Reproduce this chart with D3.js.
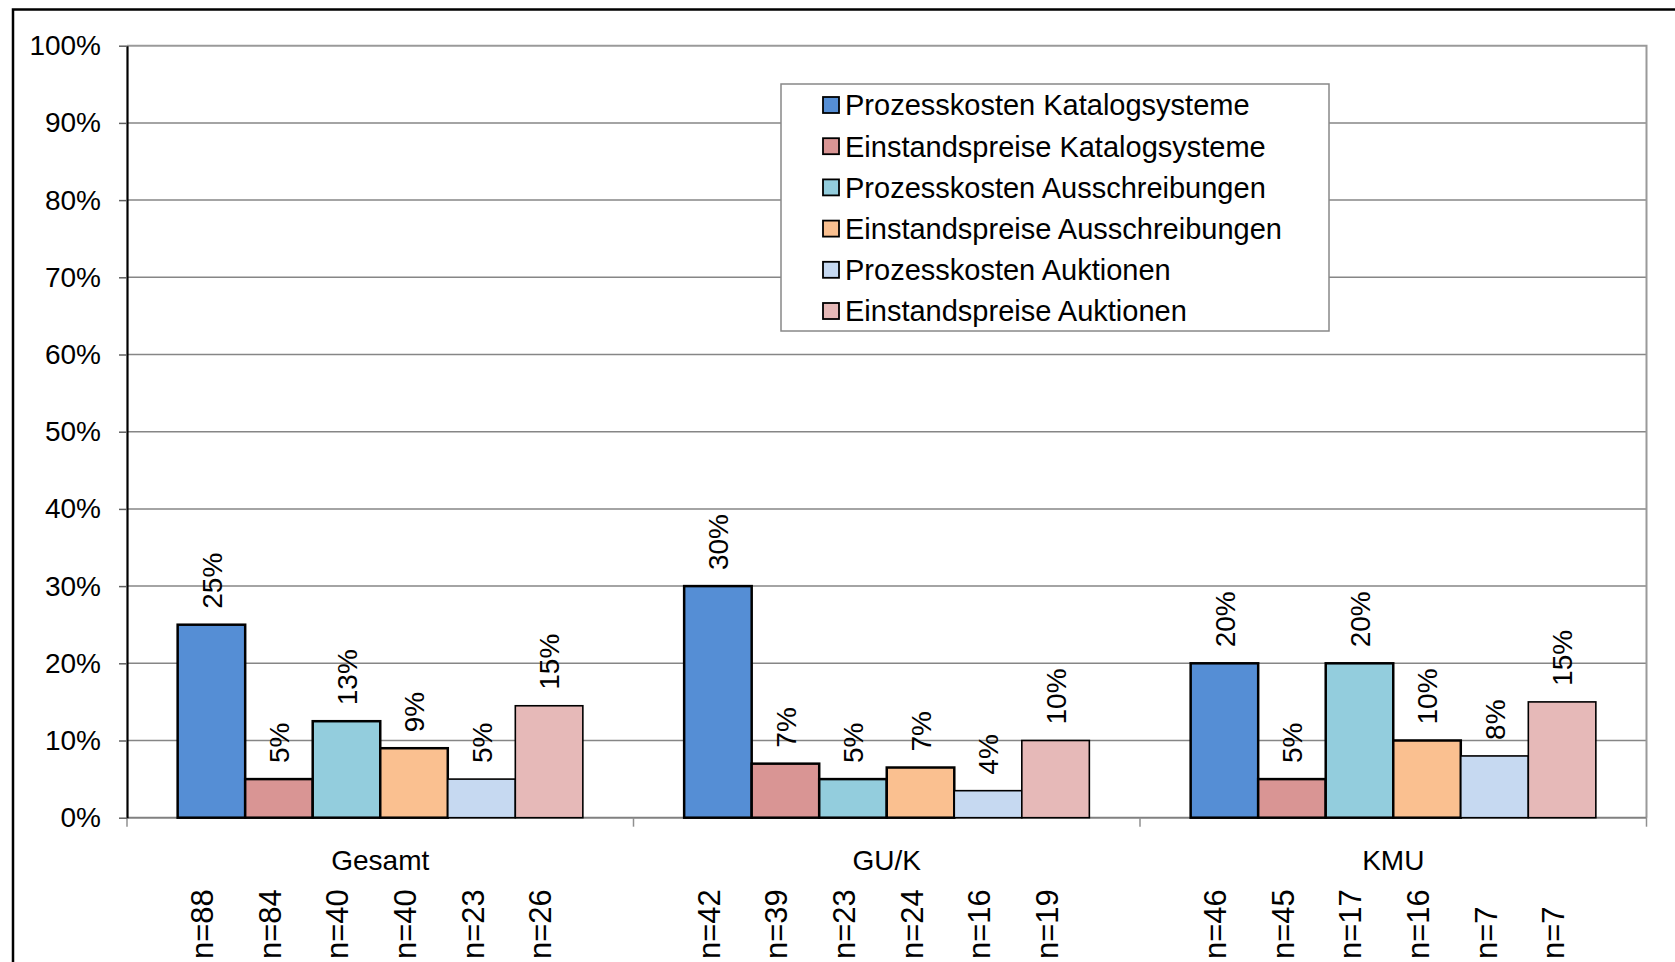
<!DOCTYPE html>
<html lang="de">
<head>
<meta charset="UTF-8">
<title>Einsparungen Prozesskosten / Einstandspreise</title>
<script src="https://d3js.org/d3.v7.min.js"></script>
<style>
  body { margin:0; background:#ffffff; }
  svg { display:block; }
  text { font-family: "Liberation Sans", Arial, sans-serif; fill:#000; }
</style>
</head>
<body>
<svg id="chart" width="1675" height="962"></svg>
<script>

// data
var groups = ["Gesamt", "GU/K", "KMU"];
var seriesNames = [
  "Prozesskosten Katalogsysteme",
  "Einstandspreise Katalogsysteme",
  "Prozesskosten Ausschreibungen",
  "Einstandspreise Ausschreibungen",
  "Prozesskosten Auktionen",
  "Einstandspreise Auktionen"
];
var gesamtValues = [25, 5, 12.5, 9, 5, 14.5];
var gukValues    = [30, 7, 5, 6.5, 3.5, 10];
var kmuValues    = [20, 5, 20, 10, 8, 15];
var gesamtN = [88, 84, 40, 40, 23, 26];
var gukN    = [42, 39, 23, 24, 16, 19];
var kmuN    = [46, 45, 17, 16, 7, 7];
var yTicks = [0, 10, 20, 30, 40, 50, 60, 70, 80, 90, 100];

var colors = ["#558ed5", "#d99594", "#93cddd", "#fac090", "#c6d9f1", "#e6b9b8"];
var strokeW = [2.5, 2.5, 2.5, 2.5, 1.6, 1.6];

var valuesByGroup = [gesamtValues, gukValues, kmuValues];
var nByGroup = [gesamtN, gukN, kmuN];

var rows = [];
groups.forEach(function(g, gi) {
  seriesNames.forEach(function(s, si) {
    rows.push({ group: g, series: s, si: si, value: valuesByGroup[gi][si], n: nByGroup[gi][si] });
  });
});

var svg = d3.select("#chart");
var plotLeft = 127, plotRight = 1646.5, plotTop = 45.7, plotBottom = 817.7;

var x0 = d3.scaleBand().domain(groups).range([plotLeft, plotRight]).paddingInner(0).paddingOuter(0);
var x1 = d3.scaleBand().domain(seriesNames).range([0, x0.bandwidth()]).paddingInner(0).paddingOuter(0.75);
var y = d3.scaleLinear().domain([0, 100]).range([plotBottom, plotTop]);

// outer frame
svg.append("rect")
  .attr("x", 13).attr("y", 9.5)
  .attr("width", 1700).attr("height", 1000)
  .attr("fill", "none").attr("stroke", "#000").attr("stroke-width", 2.5);

// gridlines
svg.append("g")
  .selectAll("line")
  .data(yTicks.filter(function(d) { return d > 0 && d < 100; }))
  .enter().append("line")
    .attr("x1", plotLeft).attr("x2", plotRight)
    .attr("y1", function(d) { return y(d); })
    .attr("y2", function(d) { return y(d); })
    .attr("stroke", "#868686").attr("stroke-width", 1.5);

// plot area border (top + right)
svg.append("path")
  .attr("d", "M" + plotLeft + "," + y(100) + "H" + plotRight + "V" + y(0))
  .attr("fill", "none").attr("stroke", "#9a9a9a").attr("stroke-width", 2);

// x axis line and category ticks
svg.append("line")
  .attr("x1", plotLeft).attr("x2", plotRight)
  .attr("y1", y(0)).attr("y2", y(0))
  .attr("stroke", "#808080").attr("stroke-width", 2);

var bounds = groups.map(function(g) { return x0(g); }).concat([plotRight]);
svg.append("g")
  .selectAll("line")
  .data(bounds)
  .enter().append("line")
    .attr("x1", function(d) { return d; }).attr("x2", function(d) { return d; })
    .attr("y1", y(0)).attr("y2", y(0) + 9)
    .attr("stroke", "#909090").attr("stroke-width", 1.5);

// y axis
var yAxis = svg.append("g")
  .attr("transform", "translate(" + plotLeft + ",0)")
  .call(d3.axisLeft(y)
    .tickValues(yTicks)
    .tickSize(8)
    .tickSizeOuter(0)
    .tickPadding(18)
    .tickFormat(function(d) { return d + "%"; }));
yAxis.select(".domain").attr("stroke", "#000").attr("stroke-width", 2.2);
yAxis.selectAll(".tick line").attr("stroke", "#606060").attr("stroke-width", 1.5);
yAxis.selectAll(".tick text")
  .style("font-family", "'Liberation Sans', Arial, sans-serif")
  .style("font-size", "28px")
  .attr("fill", "#000");

// bars
svg.append("g")
  .selectAll("rect")
  .data(rows)
  .enter().append("rect")
    .attr("x", function(d) { return x0(d.group) + x1(d.series); })
    .attr("y", function(d) { return y(d.value); })
    .attr("width", x1.bandwidth())
    .attr("height", function(d) { return y(0) - y(d.value); })
    .attr("fill", function(d) { return colors[d.si]; })
    .attr("stroke", "#000")
    .attr("stroke-width", function(d) { return strokeW[d.si]; });

// value labels (rotated)
svg.append("g")
  .selectAll("text")
  .data(rows)
  .enter().append("text")
    .attr("transform", function(d) {
      var cx = x0(d.group) + x1(d.series) + x1.bandwidth() / 2;
      return "translate(" + cx + "," + (y(d.value) - 16) + ") rotate(-90)";
    })
    .attr("dy", "0.36em")
    .style("font-size", "28px")
    .text(function(d) { return Math.round(d.value) + "%"; });

// group labels
svg.append("g")
  .selectAll("text")
  .data(groups)
  .enter().append("text")
    .attr("x", function(d) { return x0(d) + x0.bandwidth() / 2; })
    .attr("y", 870)
    .attr("text-anchor", "middle")
    .style("font-size", "28px")
    .text(function(d) { return d; });

// n labels
svg.append("clipPath").attr("id", "clipN")
  .append("rect").attr("x", 0).attr("y", 0).attr("width", 1675).attr("height", 957);

svg.append("g")
  .attr("clip-path", "url(#clipN)")
  .selectAll("text")
  .data(rows)
  .enter().append("text")
    .attr("transform", function(d) {
      var cx = x0(d.group) + x1(d.series) + x1.bandwidth() / 2 + 2;
      return "translate(" + cx + ",959) rotate(-90)";
    })
    .style("font-size", "31px")
    .text(function(d) { return "n=" + d.n; });

// legend
var legend = svg.append("g");
legend.append("rect")
  .attr("x", 781).attr("y", 84)
  .attr("width", 548).attr("height", 247)
  .attr("fill", "#fff").attr("stroke", "#888").attr("stroke-width", 1.5);

var item = legend.selectAll("g.item")
  .data(seriesNames)
  .enter().append("g")
    .attr("class", "item")
    .attr("transform", function(d, i) { return "translate(823," + (105 + i * 41.2) + ")"; });

item.append("rect")
  .attr("x", 0).attr("y", -8)
  .attr("width", 16).attr("height", 16)
  .attr("fill", function(d, i) { return colors[i]; })
  .attr("stroke", "#000").attr("stroke-width", 1.8);

item.append("text")
  .attr("x", 22)
  .attr("dy", "0.36em")
  .style("font-size", "29px")
  .text(function(d) { return d; });

</script>
</body>
</html>
